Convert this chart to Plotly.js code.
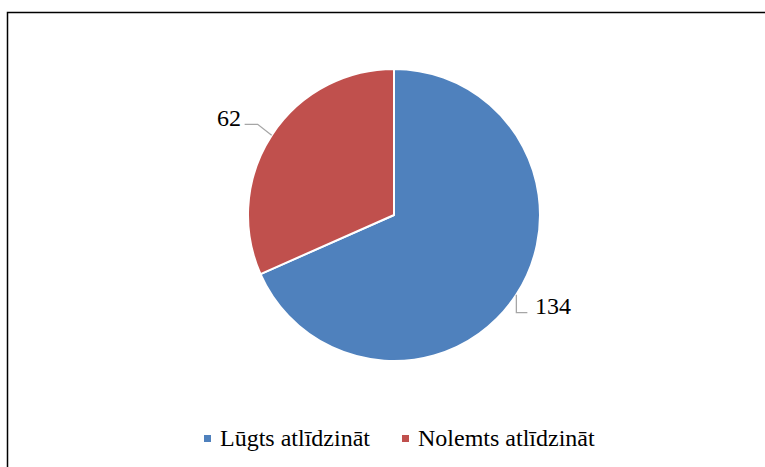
<!DOCTYPE html>
<html><head><meta charset="utf-8">
<script src="https://cdn.plot.ly/plotly-3.0.1.min.js"></script>
<style>html,body{margin:0;padding:0;background:#fff}#chart{width:765px;height:467px}</style>
</head><body><div id="chart"></div>
<script>
const categories = ["Lūgts atlīdzināt", "Nolemts atlīdzināt"];
const values = [134, 62];
const colors = ["#4F81BD", "#C0504D"];

const W = 765, H = 467;
const cx = 394, cy = 215, R = 146;
const font = "Liberation Serif, Times New Roman, serif";
const px = x => x / W, py = y => 1 - y / H;

// compute leader lines & labels from the data
const total = values.reduce((a, b) => a + b, 0);
let start = 0;
const annotations = [], shapes = [];
values.forEach((v, i) => {
  const mid = (start + v / 2) / total * 2 * Math.PI;
  start += v;
  const ex = cx + Math.sin(mid) * R, ey = cy - Math.cos(mid) * R;
  let pts, tx, ty, anchor;
  if (Math.sin(mid) >= 0) {
    pts = [[ex, ey], [ex, ey + 18], [ex + 11, ey + 18]];
    tx = ex + 17; ty = ey + 11; anchor = "left";
  } else {
    pts = [[ex, ey], [ex - 14, ey - 11], [ex - 27, ey - 11]];
    tx = ex - 29; ty = ey - 17; anchor = "right";
  }
  shapes.push({type: "path", xref: "paper", yref: "paper",
    path: "M" + pts.map(p => px(p[0]) + "," + py(p[1])).join(" L"),
    line: {color: "#A6A6A6", width: 1.3}});
  annotations.push({xref: "paper", yref: "paper", x: px(tx), y: py(ty),
    xanchor: anchor, yanchor: "middle", showarrow: false, text: String(v),
    font: {family: font, size: 24, color: "#000"}});
});

// legend drawn manually (square + label)
const legendX = [204, 402];
categories.forEach((c, i) => {
  const x0 = legendX[i];
  shapes.push({type: "rect", xref: "paper", yref: "paper",
    x0: px(x0), x1: px(x0 + 7), y0: py(442), y1: py(435),
    line: {width: 0}, fillcolor: colors[i]});
  annotations.push({xref: "paper", yref: "paper", x: px(x0 + 14), y: py(438),
    xanchor: "left", yanchor: "middle", showarrow: false, text: c,
    font: {family: font, size: 24, color: "#000"}});
});

shapes.push({type: "rect", xref: "paper", yref: "paper",
  x0: 7.5 / W, x1: 1.02, y0: -0.02, y1: 1 - 12.5 / H,
  line: {color: "#000", width: 1.5}, fillcolor: "rgba(0,0,0,0)"});

const data = [{
  type: "pie", labels: categories, values: values, sort: false,
  direction: "clockwise", rotation: 0,
  marker: {colors: colors, line: {color: "#fff", width: 2}},
  textinfo: "none", hoverinfo: "none",
  domain: {x: [(cx - R) / W, (cx + R) / W], y: [1 - (cy + R) / H, 1 - (cy - R) / H]}
}];

const layout = {
  width: W, height: H, margin: {l: 0, r: 0, t: 0, b: 0},
  paper_bgcolor: "#fff", showlegend: false,
  shapes: shapes, annotations: annotations
};
Plotly.newPlot("chart", data, layout, {displayModeBar: false, staticPlot: true});
</script></body></html>
